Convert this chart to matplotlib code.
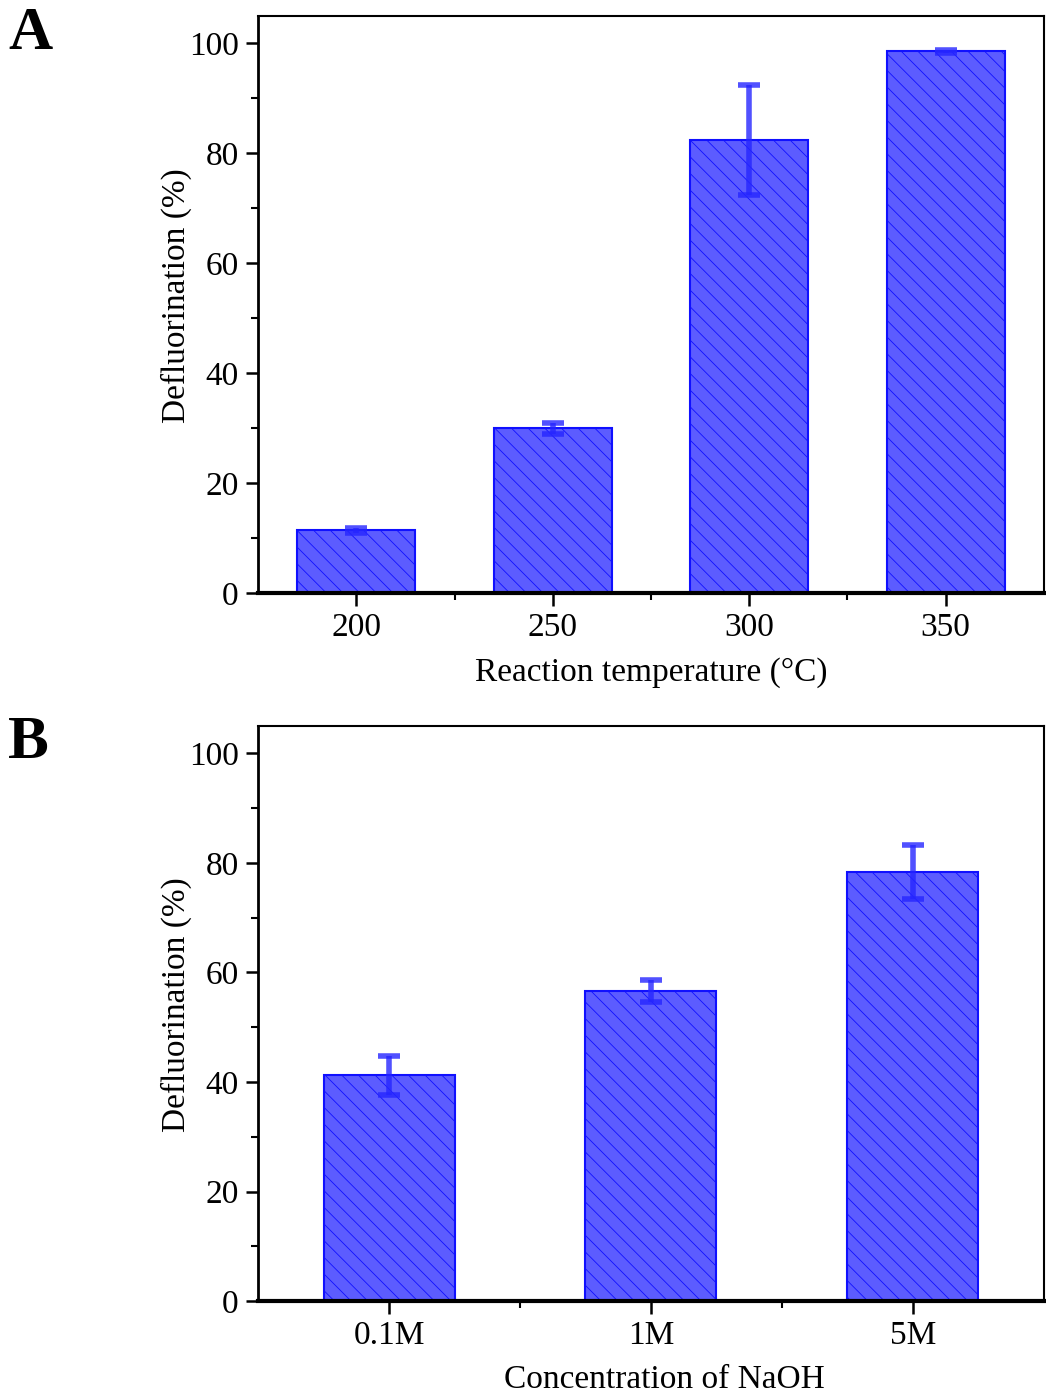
import numpy as np
import matplotlib
matplotlib.use("Agg")
import matplotlib.pyplot as plt

plt.rcParams['font.family'] = ['Liberation Serif', 'DejaVu Serif']
plt.rcParams['hatch.linewidth'] = 0.6
plt.rcParams['hatch.color'] = '#2020ff'

# panel A data
temps = ["200", "250", "300", "350"]
defl_temp = [11.4, 30.0, 82.4, 98.6]
err_temp = [0.5, 1.0, 10.0, 0.3]

# panel B data
naoh = ["0.1M", "1M", "5M"]
defl_naoh = [41.2, 56.6, 78.4]
err_naoh = [3.6, 2.0, 4.9]

fig = plt.figure(figsize=(10.46, 13.93), dpi=100)
axA = fig.add_axes([0.2467, 0.5743, 0.7513, 0.4142])
axB = fig.add_axes([0.2467, 0.0660, 0.7513, 0.4128])


def draw(ax, cats, vals, errs, width, xlabel):
    x = np.arange(len(cats))
    ax.bar(x, vals, width=width, color='#5c5cff', edgecolor='#1010ff',
           linewidth=1.5, hatch='\\\\', zorder=2)
    ax.errorbar(x, vals, yerr=errs, fmt='none', ecolor='#2525ff', alpha=0.8,
                elinewidth=4, capsize=8, capthick=4, zorder=3)
    ax.set_xlim(-0.5, len(cats) - 0.5)
    ax.set_ylim(0, 105)
    ax.set_xticks(x)
    ax.set_xticklabels(cats)
    ax.set_xticks(x[:-1] + 0.5, minor=True)
    ax.set_yticks(np.arange(0, 101, 20))
    ax.set_yticks(np.arange(10, 101, 20), minor=True)
    ax.tick_params(axis='both', which='major', direction='out', length=9,
                   width=1.8, labelsize=24, pad=5)
    ax.tick_params(axis='both', which='minor', direction='out', length=5,
                   width=1.5)
    for s in ['top', 'right']:
        ax.spines[s].set_linewidth(1.5)
    ax.spines['left'].set_linewidth(2)
    ax.spines['bottom'].set_linewidth(3)
    ax.set_ylabel('Defluorination (%)', fontsize=24, labelpad=-2)
    ax.yaxis.label.set_y(0.515)
    ax.set_xlabel(xlabel, fontsize=24, labelpad=10)


draw(axA, temps, defl_temp, err_temp, 0.6, 'Reaction temperature (\u00b0C)')
draw(axB, naoh, defl_naoh, err_naoh, 0.5, 'Concentration of NaOH')
axB.xaxis.label.set_x(0.517)

fig.text(0.008, 0.965, 'A', fontsize=44, fontweight='bold')
fig.text(0.008, 0.456, 'B', fontsize=44, fontweight='bold')

fig.savefig('out.png', dpi=100)
